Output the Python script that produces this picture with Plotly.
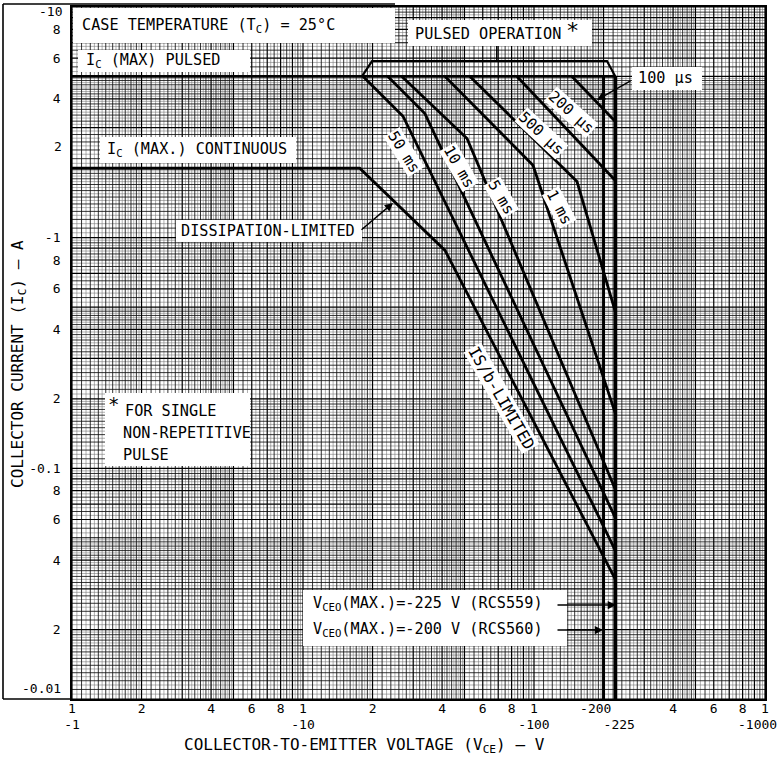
import plotly.graph_objects as go

# ---------------- data (|V_CE| in volts, |I_C| in amperes) ----------------
dc_v = [1.0, 17.6, 41.2, 225.0]
dc_i = [2.0, 2.0, 0.88, 0.033]
ms50_v = [18.2, 27.1, 225.0]
ms50_i = [5.0, 3.36, 0.044]
ms10_v = [23.3, 33.7, 225.0]
ms10_i = [5.0, 3.45, 0.061]
ms5_v = [26.8, 51.3, 225.0]
ms5_i = [5.0, 2.69, 0.081]
ms1_v = [41.2, 99.0, 225.0]
ms1_i = [5.0, 2.06, 0.173]
us500_v = [52.8, 153.5, 225.0]
us500_i = [5.0, 1.75, 0.477]
us200_v = [84.4, 225.0]
us200_i = [5.0, 1.77]
us100_v = [146.0, 225.0]
us100_i = [5.0, 3.19]
ic_pulsed_v = [1.0, 225.0]
ic_pulsed_i = [5.0, 5.0]
vceo559_v = [225.0, 225.0]
vceo559_i = [5.0, 0.01]
vceo560_v = [200.0, 200.0]
vceo560_i = [5.0, 0.01]
bracket_v = [18.0, 19.9, 207.0, 225.0]
bracket_i = [5.0, 5.83, 5.83, 5.0]
bracket_tick_v = [69.0, 69.0]
bracket_tick_i = [5.83, 6.9]

x_tickvals = [1, 2, 4, 6, 8, 10, 20, 40, 60, 80, 100, 200, 225, 400, 600, 800, 1000]
x_ticktext = ["1<br>-1", "2", "4", "6", "8", "1<br>-10", "2", "4", "6", "8",
              "1<br>-100", "-200  ", "<br> -225", "4", "6", "8", "1"]
y_tickvals = [0.02, 0.04, 0.06, 0.08, 0.1, 0.2, 0.4, 0.6, 0.8, 1, 4, 6, 8]
y_ticktext = ["2", "4", "6", "8", "-0.1", "2", "4", "6", "8", "-1", "4", "6", "8"]

# ---------------- layout geometry (pixels) ----------------
W, H = 781, 758
L, R, T, B = 72, 765, 7, 699
FONT = "DejaVu Sans Mono"
FS = 15.2


def px(x):
    return (x - L) / (R - L)


def py(y):
    return (B - y) / (B - T)


# ---------------- log paper grid ----------------
def log_paper(lo, hi):
    major, minor, fine = [], [], []
    for e in range(lo, hi):
        d = 10.0 ** e
        for k in range(1, 10):
            major.append(k * d)
        for a, b, step in [(1, 2, 0.1), (2, 5, 0.2), (5, 10, 0.5)]:
            n = int(round((b - a) / step))
            for j in range(1, n):
                v = a + j * step
                if abs(v - round(v)) > 1e-9:
                    minor.append(v * d)
        for a, b, step in [(1, 2, 0.05), (2, 5, 0.1), (5, 10, 0.25)]:
            n = int(round((b - a) / step))
            for j in range(1, n, 2):
                v = a + j * step
                if abs(v - round(v)) > 1e-9:
                    fine.append(v * d)
    major.append(10.0 ** hi)
    return major, minor, fine


gx = log_paper(0, 3)
gy = log_paper(-2, 1)

fig = go.Figure()

grid_styles = {2: ("#7a7a7a", 0.6), 1: ("#111111", 0.85), 0: ("#000000", 1.2)}
for idx in (2, 1, 0):
    xs, ys = [], []
    for v in gx[idx]:
        xs += [v, v, None]
        ys += [0.01, 10, None]
    for v in gy[idx]:
        xs += [1, 1000, None]
        ys += [v, v, None]
    col, wid = grid_styles[idx]
    fig.add_trace(go.Scatter(x=xs, y=ys, mode="lines", line=dict(color=col, width=wid),
                             hoverinfo="skip", showlegend=False))


# ---------------- curves ----------------
def curve(xv, yv, w=2.8):
    fig.add_trace(go.Scatter(x=xv, y=yv, mode="lines", line=dict(color="black", width=w),
                             hoverinfo="skip", showlegend=False))


curve(ic_pulsed_v, ic_pulsed_i, 2.8)
curve(dc_v, dc_i)
curve(ms50_v, ms50_i)
curve(ms10_v, ms10_i)
curve(ms5_v, ms5_i)
curve(ms1_v, ms1_i)
curve(us500_v, us500_i)
curve(us200_v, us200_i)
curve(us100_v, us100_i)
curve(vceo559_v, vceo559_i, 3.3)
curve(vceo560_v, vceo560_i, 3.0)
curve(bracket_v, bracket_i, 2.2)
curve(bracket_tick_v, bracket_tick_i, 1.5)

# ---------------- white label boxes ----------------
boxes = [
    (73, 8, 395, 43),
    (78, 50, 250, 72),
    (100, 137, 296, 163),
    (176, 220, 362, 242),
    (408, 20, 592, 46),
    (632, 67, 702, 90),
    (105, 393, 250, 466),
    (303, 590, 567, 646),
]
shapes = []
for x0, y0, x1, y1 in boxes:
    shapes.append(dict(type="rect", xref="paper", yref="paper", x0=px(x0), x1=px(x1),
                       y0=py(y1), y1=py(y0), fillcolor="white", line=dict(width=0),
                       layer="above"))
# outer frame around the y-axis area
fr = dict(color="black", width=1.6)
shapes += [
    dict(type="line", xref="paper", yref="paper", x0=px(3), x1=px(3), y0=0, y1=py(4), line=fr),
    dict(type="line", xref="paper", yref="paper", x0=px(3), x1=0, y0=0, y1=0, line=fr),
    dict(type="line", xref="paper", yref="paper", x0=px(3), x1=px(395), y0=py(4), y1=py(4), line=fr),
]

ann = []


def text(s, x, y, size=FS, xanchor="left", angle=0, bg=None, yanchor="middle"):
    d = dict(text=s, xref="paper", yref="paper", x=px(x), y=py(y), showarrow=False,
             xanchor=xanchor, yanchor=yanchor, textangle=angle,
             font=dict(family=FONT, size=size, color="black"))
    if bg:
        d["bgcolor"] = bg
        d["borderpad"] = 0
    ann.append(d)


def arrow(xh, yh, xt, yt):
    ann.append(dict(text="", xref="paper", yref="paper", x=px(xh), y=py(yh),
                    ax=xt - xh, ay=yt - yh, showarrow=True, arrowhead=2, arrowsize=1.1,
                    arrowwidth=1.5, arrowcolor="black", standoff=0, startstandoff=0))


text("CASE TEMPERATURE (T<sub>C</sub>) = 25°C", 80, 26)
text("I<sub>C</sub> (MAX) PULSED", 84, 61)
text("I<sub>C</sub> (MAX.) CONTINUOUS", 105, 150)
text("DISSIPATION-LIMITED", 179, 231)
text("PULSED OPERATION", 413, 34)
text("*", 564, 30, size=22)
text("100 µs", 636, 78)
text("*", 106, 404, size=19)
text("FOR SINGLE", 123, 411)
text("NON-REPETITIVE", 121, 433)
text("PULSE", 121, 455)
text("V<sub>CEO</sub>(MAX.)=-225 V (RCS559)", 311, 604)
text("V<sub>CEO</sub>(MAX.)=-200 V (RCS560)", 311, 630)

text("50 ms", 404, 152, xanchor="center", angle=58, bg="white")
text("10 ms", 459, 167, xanchor="center", angle=60, bg="white")
text("5 ms", 501, 197, xanchor="center", angle=60, bg="white")
text("1 ms", 559, 207, xanchor="center", angle=62, bg="white")
text("500 µs", 541, 133, xanchor="center", angle=43, bg="white")
text("200 µs", 571, 112, xanchor="center", angle=42, bg="white")
text("IS/b-LIMITED", 502, 398, size=16, xanchor="center", angle=60, bg="white")

arrow(393, 203, 360, 231)
arrow(597, 100, 632, 80)
arrow(616, 605, 556, 605)
arrow(603, 630, 556, 630)

# tick labels moved off their grid line, as on the original sheet
text("-10", 64, 11, size=13, xanchor="right")
text("2", 64, 147, size=13, xanchor="right")
text("-0.01", 63, 688, size=13, xanchor="right")
text("-1000", 779, 724, size=13, xanchor="right")

# axis titles
text("COLLECTOR-TO-EMITTER VOLTAGE (V<sub>CE</sub>) — V", 364, 745, size=16, xanchor="center")
text("COLLECTOR CURRENT (I<sub>C</sub>) — A", 18, 364, size=16, xanchor="center", angle=-90)

fig.update_layout(
    width=W, height=H,
    margin=dict(l=L, r=W - R, t=T, b=H - B, pad=0),
    paper_bgcolor="white", plot_bgcolor="white",
    shapes=shapes, annotations=ann,
    font=dict(family=FONT, size=13, color="black"),
    showlegend=False,
)
fig.update_xaxes(type="log", range=[0, 3], tickvals=x_tickvals, ticktext=x_ticktext,
                 ticks="", showgrid=False, zeroline=False, showline=True, mirror=True,
                 linecolor="black", linewidth=1.8, tickfont=dict(family=FONT, size=13),
                 tickangle=0, ticklabelstandoff=-4, ticklabeloverflow="allow",
                 automargin=False)
fig.update_yaxes(type="log", range=[-2, 1], tickvals=y_tickvals, ticktext=y_ticktext,
                 ticks="", showgrid=False, zeroline=False, showline=True, mirror=True,
                 linecolor="black", linewidth=1.8, tickfont=dict(family=FONT, size=13),
                 ticklabelstandoff=7, ticklabeloverflow="allow", automargin=False)

fig.write_html("out.html", config={"displayModeBar": False},
               post_script="document.body.style.margin='0';document.body.style.overflow='hidden';")
